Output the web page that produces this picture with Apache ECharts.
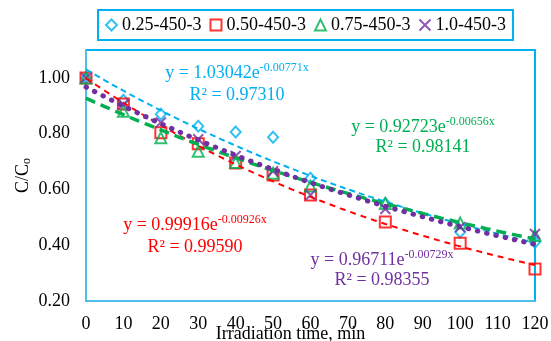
<!DOCTYPE html>
<html>
<head>
<meta charset="utf-8">
<script src="https://cdn.jsdelivr.net/npm/echarts@6/dist/echarts.min.js"></script>
<style>
  html, body { margin: 0; padding: 0; background: #fff; }
  #chart { width: 551px; height: 341px; }
</style>
</head>
<body>
<div id="chart"></div>
<script>
// irradiation times (min)
const times = [0, 10, 20, 30, 40, 50, 60, 80, 100, 120];
const names = ['0.25-450-3', '0.50-450-3', '0.75-450-3', '1.0-450-3'];

// C/Co
const c025 = [1.00, 0.92, 0.87, 0.827, 0.806, 0.787, 0.64, 0.55, 0.447, 0.411];
const c050 = [1.00, 0.906, 0.803, 0.764, 0.695, 0.652, 0.58, 0.483, 0.407, 0.315];
const c075 = [1.00, 0.88, 0.785, 0.737, 0.697, 0.658, 0.612, 0.55, 0.48, 0.435];
const c100 = [1.00, 0.905, 0.84, 0.78, 0.72, 0.665, 0.58, 0.53, 0.465, 0.44];

// exponential fits  y = a * e^(k x)
const fitA = [1.03042, 0.99916, 0.92723, 0.96711];
const fitK = [-0.00771, -0.00926, -0.00656, -0.00729];
const fitR2 = ['0.97310', '0.99590', '0.98141', '0.98355'];

const xTicks = [0, 10, 20, 30, 40, 50, 60, 70, 80, 90, 100, 110, 120];

const colors = ['#00B0F0', '#FF0000', '#00B050', '#7030A0'];
const symbols = ['diamond', 'rect', 'triangle', 'path://M0,0L10,10M0,10L10,0'];
const symSizes = [[10, 11], 11, 11, 10];
const fitStyles = [
  { width: 2, type: [6, 4] },
  { width: 2, type: [6, 5] },
  { width: 3.5, type: [10, 6] },
  { width: 5, type: [0.5, 9], cap: 'round' }
];
// where the equations sit (pixel centres)
const eqPos = [[237, 73, 95], [195, 225, 247], [423, 127, 147], [382, 260, 280]];

const font = '"Liberation Serif", "Times New Roman", serif';
const allData = [c025, c050, c075, c100];

const chart = echarts.init(document.getElementById('chart'));

const series = [];
allData.forEach((vals, i) => {
  series.push({
    name: names[i],
    type: 'scatter',
    data: vals.map((v, j) => [times[j], v]),
    symbol: symbols[i],
    symbolSize: symSizes[i],
    itemStyle: { color: 'transparent', borderColor: colors[i], borderWidth: 2 },
    z: 2
  });
});
allData.forEach((vals, i) => {
  const pts = [];
  for (let x = times[0]; x <= times[times.length - 1]; x += 1) {
    pts.push([x, fitA[i] * Math.exp(fitK[i] * x)]);
  }
  series.push({
    name: 'fit ' + names[i],
    type: 'line',
    data: pts,
    showSymbol: false,
    silent: true,
    lineStyle: Object.assign({ color: colors[i] }, fitStyles[i]),
    z: 3
  });
});

const graphics = [];
eqPos.forEach((p, i) => {
  graphics.push({
    type: 'text',
    x: p[0], y: p[1],
    z: 10,
    style: {
      text: 'y = ' + fitA[i].toFixed(5) + 'e{s|' + fitK[i].toFixed(5) + 'x}',
      fill: colors[i],
      font: '18px ' + font,
      align: 'center',
      verticalAlign: 'middle',
      rich: {
        s: { fontSize: 12, fontFamily: font, fill: colors[i], padding: [0, 0, 10, 0] }
      }
    }
  });
  graphics.push({
    type: 'text',
    x: p[0], y: p[2],
    z: 10,
    style: {
      text: 'R² = ' + fitR2[i],
      fill: colors[i],
      font: '18px ' + font,
      align: 'center',
      verticalAlign: 'middle'
    }
  });
});

chart.setOption({
  animation: false,
  backgroundColor: '#fff',
  textStyle: { fontFamily: font },
  grid: {
    left: 86, right: 16, top: 50, bottom: 40,
    outerBoundsMode: 'none',
    containLabel: false,
    show: true, borderColor: '#00B0F0', borderWidth: 2
  },
  legend: {
    data: names,
    left: 98, top: 10,
    padding: [6, 7, 6, 7],
    borderColor: '#00B0F0', borderWidth: 2,
    itemWidth: 11, itemHeight: 11, itemGap: 8,
    textStyle: { fontSize: 18, color: '#000', fontFamily: font }
  },
  xAxis: {
    type: 'value',
    min: xTicks[0], max: xTicks[xTicks.length - 1], interval: 10,
    name: 'Irradiation time, min',
    nameLocation: 'middle',
    nameGap: 24,
    nameMoveOverlap: false,
    nameTextStyle: { fontSize: 18, color: '#000', fontFamily: font, padding: [0, 40, 0, 0] },
    axisLine: { lineStyle: { color: '#4DBFE8', width: 2 } },
    axisTick: { show: false },
    splitLine: { show: false },
    axisLabel: { fontSize: 18, color: '#000', margin: 14, fontFamily: font }
  },
  yAxis: {
    type: 'value',
    min: 0.2, max: 1.1, interval: 0.2,
    name: 'C/C{sub|o}',
    nameLocation: 'middle',
    nameRotate: 90,
    nameGap: 53,
    nameMoveOverlap: false,
    nameTextStyle: {
      fontSize: 18, color: '#000', fontFamily: font,
      rich: { sub: { fontSize: 12, fontFamily: font, color: '#000', padding: [8, 0, 0, 0] } }
    },
    axisLine: { show: true, lineStyle: { color: '#4DBFE8', width: 2 } },
    axisTick: { show: false },
    splitLine: { show: false },
    axisLabel: {
      fontSize: 18, color: '#000', margin: 16, fontFamily: font,
      showMaxLabel: false,
      formatter: v => v.toFixed(2)
    }
  },
  series: series,
  graphic: graphics
});
</script>
</body>
</html>
